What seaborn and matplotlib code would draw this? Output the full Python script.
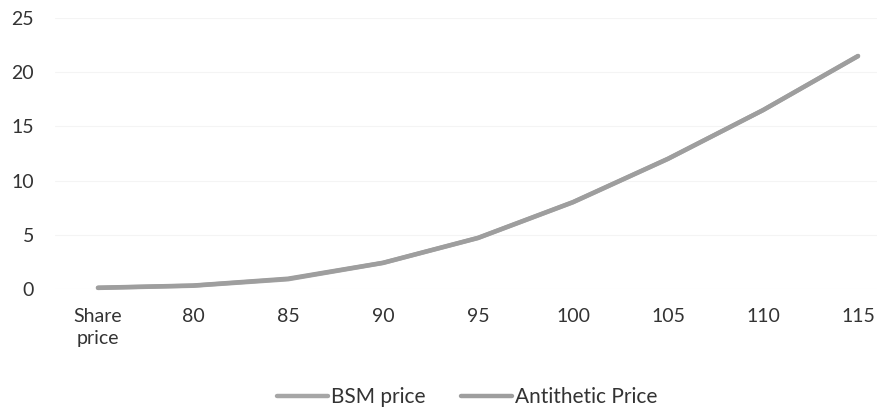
import seaborn as sb
import numpy as np
import pandas as pd
import matplotlib.pyplot as plt

categories = ["Share\nprice", "80", "85", "90", "95", "100", "105", "110", "115"]
bsm_price = [0.1, 0.3, 0.9, 2.4, 4.7, 8.0, 12.0, 16.5, 21.5]
antithetic_price = [0.12, 0.32, 0.95, 2.42, 4.72, 8.02, 12.02, 16.5, 21.48]

sb.set_style("white")
plt.rcParams['font.family'] = ['Lato', 'DejaVu Sans']

df = pd.DataFrame({
    "pos": list(range(len(categories))) * 2,
    "price": bsm_price + antithetic_price,
    "series": ["BSM price"] * len(categories) + ["Antithetic Price"] * len(categories),
})

fig = plt.figure(figsize=(8.77, 4.15), dpi=100)
ax = fig.add_axes([55 / 877, 1 - 289 / 415, (877 - 55) / 877, (289 - 18) / 415])

sb.lineplot(data=df, x="pos", y="price", hue="series",
            palette=["#a6a6a6", "#9e9e9e"], linewidth=3.2, ax=ax, sort=False)
for ln in ax.lines:
    ln.set_clip_on(False)

ax.set_xlim((55 - 98) / 95, (877 - 98) / 95)
ax.set_ylim(0, 25)
ax.set_yticks(range(0, 26, 5))
ax.set_xticks(range(len(categories)))
ax.set_xticklabels(categories, fontsize=14, color="#333333", linespacing=1.35)
ax.tick_params(axis="y", labelsize=14, labelcolor="#333333", pad=15, length=0)
ax.tick_params(axis="x", pad=14, length=0)
ax.set_xlabel("")
ax.set_ylabel("")
ax.grid(axis="y", color="#f4f4f4", linewidth=0.8)
for s in ax.spines.values():
    s.set_visible(False)

ax.legend(loc="center", bbox_to_anchor=((467 - 55) / 822, (289 - 397) / 271),
          ncol=2, frameon=False, fontsize=15, handlelength=2.45,
          handletextpad=0.15, columnspacing=1.7, labelcolor="#333333")

fig.savefig("out.png", dpi=100)
